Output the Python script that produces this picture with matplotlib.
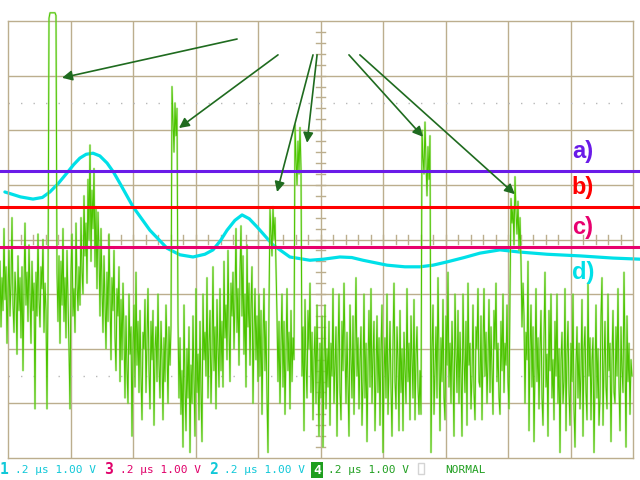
import numpy as np
import matplotlib
matplotlib.use('Agg')
import matplotlib.pyplot as plt
from matplotlib.patches import Rectangle

# ── scope settings (0.2 us/div, 1.00 V/div, 10 x 8 divisions) ────────────────
T_MAX = 2.0          # us across the screen
V_MAX = 4.0          # volts from centre to top

# threshold levels a), b), c)  [V]
LEVEL_LABELS = ['a)', 'b)', 'c)']
LEVEL_V      = [1.245, 0.595, -0.137]

# d) filtered envelope (cyan trace)
ENV_T = [-0.010, 0.040, 0.080, 0.110, 0.134, 0.160, 0.189, 0.210, 0.230, 0.250,
         0.272, 0.294, 0.317, 0.338, 0.358, 0.400, 0.454, 0.509, 0.550, 0.592,
         0.630, 0.656, 0.680, 0.701, 0.726, 0.749, 0.772, 0.797, 0.848, 0.902,
         0.966, 1.010, 1.062, 1.100, 1.136, 1.213, 1.270, 1.318, 1.360, 1.405,
         1.460, 1.510, 1.574, 1.638, 1.725, 1.830, 1.936, 2.022]
ENV_V = [0.87, 0.78, 0.74, 0.77, 0.87, 1.02, 1.22, 1.37, 1.49, 1.56,
         1.58, 1.53, 1.40, 1.23, 1.03, 0.60, 0.17, -0.16, -0.28, -0.32,
         -0.27, -0.19, -0.02, 0.17, 0.35, 0.45, 0.38, 0.23, -0.10, -0.32,
         -0.38, -0.36, -0.32, -0.33, -0.38, -0.47, -0.50, -0.50, -0.47, -0.41,
         -0.33, -0.25, -0.19, -0.23, -0.27, -0.30, -0.34, -0.36]

# raw channel (green trace), one sample every 3.2 ns starting 25.6 ns before screen
TRACE_T0 = -0.0256
TRACE_DT = 0.0032
TRACE_V = [
    -0.4, -1.6, -0.7, -1.3, 0.2, -1.1, -0.5, -1.9, -0.9, -0.2, -1.4, -0.8, 0.4, -1.2, -1.7, -0.6, -1.0, -2.1, -0.3, -1.3,
    -0.7, -1.8, -0.5, -2.4, -0.9, 0.3, -1.2, -0.6, -1.5, -0.1, -1.0, -1.9, -0.4, -1.3, -0.8, -3.1, -0.6, -1.4, 0.1, -1.1,
    -1.6, -0.5, -0.9, 0.0, -1.7, -0.8, -1.3, -3.1, -1.0, 4.05, 4.15, 4.15, 4.15, 4.15, 4.15, 4.15, 4.1, -0.6, -1.5, -0.3,
    -1.9, -0.4, -1.2, 0.2, -1.5, -0.7, -1.8, -0.2, -1.1, -2.0, -3.1, -0.6, 0.1, -1.4, -0.9, -1.7, 0.3, -0.8, -1.3, -0.5,
    -1.2, 0.4, -0.6, -1.0, 0.8, -0.3, 0.3, -0.8, 1.1, 0.0, 1.73, -0.4, 0.9, 0.2, 1.3, -0.5, 0.6, -0.9, 0.5, -0.2,
    -1.4, 0.2, -0.9, -1.7, -0.3, -1.2, -2.0, -0.6, -1.5, 0.1, -1.0, -2.2, -0.7, -1.3, -0.2, -1.8, -2.4, -0.9, -1.4, -0.5,
    -2.6, -1.1, -2.2, -0.8, -1.7, -2.9, -1.4, -2.4, -3.0, -1.0, -2.1, -1.6, -3.6, -1.9, -1.2, -2.7, -0.6, -2.3, -1.5, -2.8,
    -1.3, -2.5, -3.3, -1.7, -2.0, -1.1, -2.8, -1.9, -0.9, -2.4, -3.1, -1.5, -2.2, -1.3, -3.4, -2.0, -1.6, -2.6, -1.0, -2.3,
    -2.9, -1.5, -2.2, -3.3, -1.8, -2.6, -1.2, -2.0, -3.0, -1.6, -2.3, -1.6, 2.8, 2.2, 1.6, 2.5, 1.9, 2.4, -1.5, -2.9,
    -1.8, -3.2, -2.4, -3.8, -1.2, -2.7, -3.5, -2.0, -2.9, -1.6, -3.9, -2.3, -3.0, -1.4, -2.6, -3.6, -0.9, -2.8, -2.1, -3.3,
    -1.5, -2.8, -3.7, -1.0, -2.2, -1.7, -2.5, -0.7, -2.9, -1.9, -1.3, -3.0, -2.1, -0.5, -2.4, -1.6, -3.1, -1.1, -2.0, -2.7,
    -0.9, -2.4, -1.5, -2.7, -0.4, -1.8, -1.2, -2.2, -0.2, -1.6, -2.6, -0.8, -1.4, -0.6, -2.0, -1.1, 0.2, -1.7, -0.9, -2.3,
    -0.6, 0.25, -1.4, -0.3, -2.1, -1.0, -2.7, -0.1, -1.6, -0.8, -2.3, -1.2, -0.5, -3.0, -1.7, -0.9, -2.2, -1.4, -2.6, -1.0,
    -2.5, -1.3, -3.2, -1.8, -0.9, -2.4, -1.5, -2.9, -3.9, -1.2, 0.55, 0.1, -0.3, 0.6, 0.0, 0.4, -0.5, -1.4, -2.6, -1.5,
    -3.0, -1.9, -1.0, -2.7, -1.5, -3.2, -2.1, -0.9, -2.4, -1.7, -3.1, -1.3, -2.6, -1.8, -2.2, 2.1, 1.5, 1.0, 1.8, 1.2,
    2.05, 1.3, -2.5, -1.6, -3.5, -1.1, -2.3, -2.9, -1.3, -2.0, -0.8, -2.8, -1.7, -3.3, -2.2, -1.6, -3.0, -1.2, -2.5, -3.6,
    -1.9, -2.9, -1.4, -3.8, -2.2, -1.2, -3.1, -2.0, -2.7, -1.5, -3.4, -1.9, -2.5, -0.9, -3.0, -2.3, -1.6, -3.6, -2.1, -1.0,
    -2.8, -3.3, -1.5, -2.4, -0.8, -2.0, -3.0, -1.7, -2.6, -3.6, -1.2, -2.2, -2.9, -1.4, -3.2, -2.0, -0.7, -2.5, -1.8, -3.1,
    -2.2, -1.6, -3.4, -2.6, -1.0, -2.9, -1.9, -3.7, -2.3, -1.3, -2.7, -0.9, -3.0, -2.1, -1.5, -3.5, -2.4, -1.4, -2.8, -1.8,
    -3.4, -2.0, -1.2, -3.9, -2.5, -1.8, -2.9, -1.0, -3.2, -2.3, -1.5, -2.7, -3.6, -1.9, -0.8, -2.6, -3.1, -1.6, -2.2, -3.5,
    -1.3, -2.8, -2.0, -3.5, -1.7, -2.4, -3.0, -0.9, -2.6, -1.9, -3.3, -1.4, -2.2, -2.9, -1.1, -3.3, -2.1, -1.6, -2.7, -3.2,
    -2.4, -3.2, 2.0, 1.5, 1.2, 2.15, 1.4, 0.8, 1.7, 1.1, 1.9, -3.9, -2.0, -1.2, -3.2, -2.4, -1.6, -2.9, -0.7, -2.2,
    -3.5, -1.8, -2.6, -1.1, -2.9, -3.3, -1.4, -2.3, -0.6, -2.7, -1.9, -3.0, -1.5, -2.4, -3.6, -1.0, -2.1, -2.8, -1.3, -3.0,
    -1.7, -2.5, -3.6, -1.0, -2.2, -2.8, -1.5, -3.4, -0.8, -2.3, -1.9, -3.1, -2.5, -1.2, -2.8, -3.3, -1.6, -2.0, -0.9, -2.6,
    -2.7, -1.4, -3.3, -2.0, -0.9, -2.5, -1.7, -3.0, -2.2, -1.1, -2.8, -1.6, -2.4, -3.2, -1.3, -2.0, -0.8, -2.6, -1.9, -2.9,
    -3.2, -1.5, -2.4, -1.0, -2.8, -1.9, -2.3, -1.2, -2.6, -3.1, -1.0, 0.75, 0.3, 0.6, -0.1, 1.15, 0.5, 0.1, 0.7, -0.2,
    0.4, -0.4, -1.6, -0.8, -1.4, -3.0, -1.7, -2.2, -0.4, -3.5, -2.0, -1.2, -2.7, -1.6, -3.7, -2.3, -0.9, -2.6, -1.8, -3.1,
    -2.0, -1.3, -2.9, -3.4, -1.8, -0.6, -2.7, -2.1, -3.6, -1.3, -2.4, -1.0, -2.9, -2.2, -3.3, -1.5, -2.5, -1.0, -3.0, -2.0,
    -3.9, -2.2, -1.7, -3.0, -2.6, -0.9, -3.5, -2.1, -1.5, -2.8, -3.4, -1.9, -2.6, -1.0, -3.1, -3.8, -2.3, -1.6, -2.9, -1.9,
    -3.1, -2.4, -1.1, -3.6, -2.0, -1.6, -2.8, -3.3, -0.8, -2.5, -1.8, -3.3, -2.2, -1.8, -3.9, -2.6, -1.2, -2.9, -2.0, -3.4,
    -2.9, -1.4, -0.7, -3.4, -2.3, -1.5, -2.7, -3.1, -1.0, -2.4, -1.9, -3.7, -2.2, -1.3, -2.8, -3.0, -1.6, -2.5, -0.9, -2.7,
    -3.5, -1.6, -2.4, -2.8, -0.6, -2.1, -3.8, -1.4, -2.6, -1.9, -3.2, -2.2, -2.5,
]

# arrows: (tail t, tail V) -> (head t, head V)
ARROW_FROM = [(0.733, 3.67), (0.864, 3.38), (0.976, 3.38), (0.989, 3.38), (1.091, 3.38), (1.126, 3.38)]
ARROW_TO   = [(0.173, 2.96), (0.547, 2.04), (0.861, 0.87), (0.957, 1.77), (1.328, 1.88), (1.622, 0.83)]

# ── colours ──────────────────────────────────────────────────────────────────
GRID    = '#BCAE8E'
GREEN   = '#4CC400'
GREEN_LT = '#A6E27A'
CYAN    = '#00E0E8'
ARROW   = '#1F6B1F'
LEVEL_COLORS = ['#6A1BE8', '#FF0000', '#E8006E']
TXT_CYAN = '#10C8D8'
TXT_MAG  = '#E0006A'
TXT_GRN  = '#22A022'

fig = plt.figure(figsize=(6.4, 4.8), dpi=100)
fig.patch.set_facecolor('white')
ax = fig.add_axes([8/640, 1 - 458/480, 625/640, 437/480])
ax.set_xlim(0, T_MAX)
ax.set_ylim(-V_MAX, V_MAX)
ax.set_xticks([])
ax.set_yticks([])
for sp in ax.spines.values():
    sp.set_edgecolor(GRID)
    sp.set_linewidth(1.0)

# graticule
dt_div = T_MAX / 10
for i in range(1, 10):
    ax.axvline(i * dt_div, color=GRID, lw=1.0, zorder=1)
for j in range(-3, 4):
    ax.axhline(j, color=GRID, lw=1.0, zorder=1)
# minor ticks on centre axes
for k in range(1, 50):
    x = k * dt_div / 5
    ax.plot([x, x], [-0.08, 0.08], color=GRID, lw=1.0, zorder=1)
for k in range(-19, 20):
    y = k / 5
    ax.plot([T_MAX/2 - 0.014, T_MAX/2 + 0.014], [y, y], color=GRID, lw=1.0, zorder=1)
# rise-time dotted lines
for y in (2.5, -2.5):
    ax.axhline(y, color='#B8B8B8', lw=1.0, linestyle=(0, (1, 8)), zorder=1)

# cyan envelope
ax.plot(ENV_T, ENV_V, color=CYAN, lw=2.3, zorder=2, clip_on=False,
        solid_capstyle='round', solid_joinstyle='round')

# green raw trace (light halo + main stroke)
trace_t = TRACE_T0 + TRACE_DT * np.arange(len(TRACE_V))
ax.plot(trace_t, TRACE_V, color=GREEN_LT, lw=1.6, alpha=0.5, zorder=3, clip_on=False)
ax.plot(trace_t, TRACE_V, color=GREEN, lw=0.75, zorder=3, clip_on=False)

# threshold levels + labels
for lab, v, c in zip(LEVEL_LABELS, LEVEL_V, LEVEL_COLORS):
    ax.axhline(v, xmin=-8/625, xmax=632/625, color=c, lw=2.2, zorder=4, clip_on=False)
label_y = [1.62, 0.96, 0.22, -0.61]
for lab, y, c in zip(LEVEL_LABELS + ['d)'], label_y, LEVEL_COLORS + [CYAN]):
    ax.text(1.84, y, lab, color=c, fontsize=17, fontweight='bold',
            family='Liberation Sans', ha='center', va='center', zorder=5)

# arrows
for (x0, y0), (x1, y1) in zip(ARROW_FROM, ARROW_TO):
    ax.annotate('', xy=(x1, y1), xytext=(x0, y0), annotation_clip=False,
                arrowprops=dict(arrowstyle='-|>', color=ARROW, lw=1.2,
                                mutation_scale=15, shrinkA=0, shrinkB=0),
                zorder=6)

# ── status bar ───────────────────────────────────────────────────────────────
ys = 1 - 470/480
mono = 'DejaVu Sans Mono'
def st(xpx, s, c, **kw):
    fig.text(xpx/640, ys, s, color=c, family=mono, va='center', ha='left', **kw)

st(0,   '1', TXT_CYAN, fontsize=10.5, fontweight='bold')
st(15,  '.2 μs 1.00 V', TXT_CYAN, fontsize=8)
st(104, '3', TXT_MAG, fontsize=10.5, fontweight='bold')
st(120, '.2 μs 1.00 V', TXT_MAG, fontsize=8)
st(209, '2', TXT_CYAN, fontsize=10.5, fontweight='bold')
st(224, '.2 μs 1.00 V', TXT_CYAN, fontsize=8)
fig.text(317/640, ys, '4', color='white', family=mono, fontsize=9.5, fontweight='bold',
         va='center', ha='center',
         bbox=dict(boxstyle='square,pad=0.12', facecolor='#1E9E1E', edgecolor='none'))
st(328, '.2 μs 1.00 V', TXT_GRN, fontsize=8)
fig.patches.append(Rectangle((418/640, 1 - 474/480), 6/640, 11/480,
                             transform=fig.transFigure, facecolor='white',
                             edgecolor='#D4D4D4', lw=1.0))
st(445, 'NORMAL', TXT_GRN, fontsize=8)

fig.savefig('out.png', dpi=100, facecolor='white')
